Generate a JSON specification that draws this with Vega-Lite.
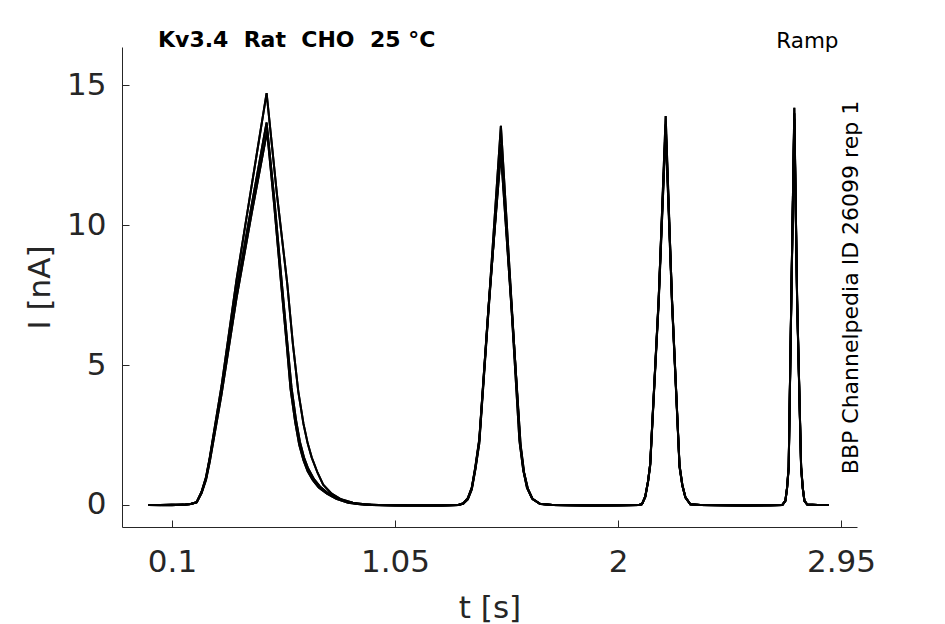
{
  "$schema": "https://vega.github.io/schema/vega-lite/v6.json",
  "autosize": {"type": "none"},
  "padding": {"left": 122, "top": 47, "right": 88, "bottom": 97},
  "width": 735,
  "height": 480,
  "background": "white",
  "title": {
    "text": "Kv3.4\u00a0\u00a0Rat\u00a0\u00a0CHO\u00a0\u00a025\u00a0°C",
    "anchor": "start", "frame": "group", "dx": 36, "offset": -39,
    "baseline": "alphabetic", "font": "DejaVu Sans", "fontSize": 22,
    "fontWeight": "bold", "color": "black"
  },
  "datasets": {
    "sweeps": [
      {"s": "A", "t": 0, "i": 0}, {"s": "A", "t": 0.05, "i": -0.01}, {"s": "A", "t": 0.1, "i": 0}, {"s": "A", "t": 0.15, "i": 0.01},
      {"s": "A", "t": 0.18, "i": 0.03}, {"s": "A", "t": 0.205, "i": 0.1}, {"s": "A", "t": 0.226, "i": 0.45}, {"s": "A", "t": 0.245, "i": 0.95},
      {"s": "A", "t": 0.261, "i": 1.65}, {"s": "A", "t": 0.311, "i": 4.1}, {"s": "A", "t": 0.375, "i": 7.65}, {"s": "A", "t": 0.44, "i": 10.75},
      {"s": "A", "t": 0.503, "i": 13.67}, {"s": "A", "t": 0.535, "i": 11.0}, {"s": "A", "t": 0.567, "i": 8.0}, {"s": "A", "t": 0.59, "i": 5.9},
      {"s": "A", "t": 0.609, "i": 4.2}, {"s": "A", "t": 0.628, "i": 3.05}, {"s": "A", "t": 0.645, "i": 2.25}, {"s": "A", "t": 0.662, "i": 1.7},
      {"s": "A", "t": 0.68, "i": 1.3}, {"s": "A", "t": 0.705, "i": 0.92}, {"s": "A", "t": 0.73, "i": 0.66}, {"s": "A", "t": 0.765, "i": 0.42},
      {"s": "A", "t": 0.801, "i": 0.25}, {"s": "A", "t": 0.85, "i": 0.1}, {"s": "A", "t": 0.887, "i": 0.04}, {"s": "A", "t": 0.95, "i": 0},
      {"s": "A", "t": 1.05, "i": -0.02}, {"s": "A", "t": 1.15, "i": -0.02}, {"s": "A", "t": 1.25, "i": -0.02}, {"s": "A", "t": 1.32, "i": 0},
      {"s": "A", "t": 1.341, "i": 0.05}, {"s": "A", "t": 1.36, "i": 0.22}, {"s": "A", "t": 1.377, "i": 0.6}, {"s": "A", "t": 1.392, "i": 1.3},
      {"s": "A", "t": 1.409, "i": 2.3}, {"s": "A", "t": 1.448, "i": 7.0}, {"s": "A", "t": 1.501, "i": 13.55}, {"s": "A", "t": 1.548, "i": 7.0},
      {"s": "A", "t": 1.583, "i": 2.2}, {"s": "A", "t": 1.598, "i": 1.2}, {"s": "A", "t": 1.614, "i": 0.6}, {"s": "A", "t": 1.635, "i": 0.22},
      {"s": "A", "t": 1.668, "i": 0.04}, {"s": "A", "t": 1.72, "i": 0}, {"s": "A", "t": 1.85, "i": -0.02}, {"s": "A", "t": 2.0, "i": -0.02},
      {"s": "A", "t": 2.09, "i": 0}, {"s": "A", "t": 2.102, "i": 0.03}, {"s": "A", "t": 2.116, "i": 0.3}, {"s": "A", "t": 2.128, "i": 0.85},
      {"s": "A", "t": 2.137, "i": 1.45}, {"s": "A", "t": 2.173, "i": 7.3}, {"s": "A", "t": 2.203, "i": 13.9}, {"s": "A", "t": 2.23, "i": 7.3},
      {"s": "A", "t": 2.262, "i": 1.4}, {"s": "A", "t": 2.274, "i": 0.7}, {"s": "A", "t": 2.287, "i": 0.27}, {"s": "A", "t": 2.308, "i": 0.02},
      {"s": "A", "t": 2.35, "i": 0}, {"s": "A", "t": 2.5, "i": -0.02}, {"s": "A", "t": 2.65, "i": -0.02}, {"s": "A", "t": 2.7, "i": 0},
      {"s": "A", "t": 2.713, "i": 0.15}, {"s": "A", "t": 2.72, "i": 0.6}, {"s": "A", "t": 2.727, "i": 1.35}, {"s": "A", "t": 2.738, "i": 7.3},
      {"s": "A", "t": 2.751, "i": 14.2}, {"s": "A", "t": 2.763, "i": 7.3}, {"s": "A", "t": 2.78, "i": 1.35}, {"s": "A", "t": 2.787, "i": 0.6},
      {"s": "A", "t": 2.794, "i": 0.15}, {"s": "A", "t": 2.806, "i": 0.01}, {"s": "A", "t": 2.85, "i": 0}, {"s": "A", "t": 2.898, "i": 0},

      {"s": "B", "t": 0, "i": 0}, {"s": "B", "t": 0.05, "i": 0}, {"s": "B", "t": 0.1, "i": 0.01}, {"s": "B", "t": 0.15, "i": 0},
      {"s": "B", "t": 0.18, "i": 0.03}, {"s": "B", "t": 0.205, "i": 0.09}, {"s": "B", "t": 0.226, "i": 0.42}, {"s": "B", "t": 0.245, "i": 0.9},
      {"s": "B", "t": 0.261, "i": 1.55}, {"s": "B", "t": 0.311, "i": 3.95}, {"s": "B", "t": 0.375, "i": 7.4}, {"s": "B", "t": 0.44, "i": 10.45},
      {"s": "B", "t": 0.505, "i": 13.35}, {"s": "B", "t": 0.535, "i": 10.75}, {"s": "B", "t": 0.565, "i": 7.9}, {"s": "B", "t": 0.588, "i": 5.8},
      {"s": "B", "t": 0.605, "i": 4.15}, {"s": "B", "t": 0.625, "i": 2.95}, {"s": "B", "t": 0.642, "i": 2.15}, {"s": "B", "t": 0.66, "i": 1.6},
      {"s": "B", "t": 0.678, "i": 1.2}, {"s": "B", "t": 0.7, "i": 0.88}, {"s": "B", "t": 0.725, "i": 0.62}, {"s": "B", "t": 0.76, "i": 0.4},
      {"s": "B", "t": 0.8, "i": 0.22}, {"s": "B", "t": 0.85, "i": 0.08}, {"s": "B", "t": 0.9, "i": 0.02}, {"s": "B", "t": 0.95, "i": 0},
      {"s": "B", "t": 1.1, "i": -0.01}, {"s": "B", "t": 1.25, "i": -0.02}, {"s": "B", "t": 1.32, "i": 0}, {"s": "B", "t": 1.341, "i": 0.06},
      {"s": "B", "t": 1.36, "i": 0.24}, {"s": "B", "t": 1.377, "i": 0.62}, {"s": "B", "t": 1.392, "i": 1.35}, {"s": "B", "t": 1.409, "i": 2.35},
      {"s": "B", "t": 1.448, "i": 7.05}, {"s": "B", "t": 1.501, "i": 12.6}, {"s": "B", "t": 1.546, "i": 7.05}, {"s": "B", "t": 1.58, "i": 2.3},
      {"s": "B", "t": 1.596, "i": 1.25}, {"s": "B", "t": 1.612, "i": 0.62}, {"s": "B", "t": 1.633, "i": 0.24}, {"s": "B", "t": 1.666, "i": 0.04},
      {"s": "B", "t": 1.72, "i": 0}, {"s": "B", "t": 1.9, "i": -0.02}, {"s": "B", "t": 2.09, "i": 0}, {"s": "B", "t": 2.102, "i": 0.03},
      {"s": "B", "t": 2.116, "i": 0.3}, {"s": "B", "t": 2.128, "i": 0.86}, {"s": "B", "t": 2.137, "i": 1.47}, {"s": "B", "t": 2.173, "i": 7.35},
      {"s": "B", "t": 2.203, "i": 13.6}, {"s": "B", "t": 2.23, "i": 7.35}, {"s": "B", "t": 2.262, "i": 1.42}, {"s": "B", "t": 2.274, "i": 0.72},
      {"s": "B", "t": 2.287, "i": 0.28}, {"s": "B", "t": 2.308, "i": 0.02}, {"s": "B", "t": 2.35, "i": 0}, {"s": "B", "t": 2.55, "i": -0.02},
      {"s": "B", "t": 2.7, "i": 0}, {"s": "B", "t": 2.713, "i": 0.15}, {"s": "B", "t": 2.72, "i": 0.62}, {"s": "B", "t": 2.727, "i": 1.38},
      {"s": "B", "t": 2.738, "i": 7.35}, {"s": "B", "t": 2.751, "i": 14.0}, {"s": "B", "t": 2.763, "i": 7.35}, {"s": "B", "t": 2.78, "i": 1.38},
      {"s": "B", "t": 2.787, "i": 0.62}, {"s": "B", "t": 2.794, "i": 0.15}, {"s": "B", "t": 2.806, "i": 0.01}, {"s": "B", "t": 2.85, "i": 0},
      {"s": "B", "t": 2.898, "i": 0},

      {"s": "C", "t": 0, "i": 0}, {"s": "C", "t": 0.05, "i": 0}, {"s": "C", "t": 0.1, "i": -0.01}, {"s": "C", "t": 0.15, "i": 0.01},
      {"s": "C", "t": 0.18, "i": 0.03}, {"s": "C", "t": 0.205, "i": 0.1}, {"s": "C", "t": 0.226, "i": 0.47}, {"s": "C", "t": 0.245, "i": 1.0},
      {"s": "C", "t": 0.261, "i": 1.7}, {"s": "C", "t": 0.311, "i": 4.25}, {"s": "C", "t": 0.375, "i": 8.05}, {"s": "C", "t": 0.44, "i": 11.45},
      {"s": "C", "t": 0.503, "i": 14.72}, {"s": "C", "t": 0.547, "i": 11.1}, {"s": "C", "t": 0.591, "i": 7.9}, {"s": "C", "t": 0.615, "i": 5.75},
      {"s": "C", "t": 0.638, "i": 4.05}, {"s": "C", "t": 0.66, "i": 2.9}, {"s": "C", "t": 0.678, "i": 2.2}, {"s": "C", "t": 0.695, "i": 1.7},
      {"s": "C", "t": 0.72, "i": 1.15}, {"s": "C", "t": 0.744, "i": 0.72}, {"s": "C", "t": 0.78, "i": 0.4}, {"s": "C", "t": 0.82, "i": 0.2},
      {"s": "C", "t": 0.87, "i": 0.08}, {"s": "C", "t": 0.92, "i": 0.02}, {"s": "C", "t": 0.98, "i": 0}, {"s": "C", "t": 1.1, "i": -0.02},
      {"s": "C", "t": 1.2, "i": -0.02}, {"s": "C", "t": 1.32, "i": 0}, {"s": "C", "t": 1.341, "i": 0.05}, {"s": "C", "t": 1.36, "i": 0.2},
      {"s": "C", "t": 1.377, "i": 0.55}, {"s": "C", "t": 1.392, "i": 1.25}, {"s": "C", "t": 1.409, "i": 2.2}, {"s": "C", "t": 1.448, "i": 6.9},
      {"s": "C", "t": 1.501, "i": 12.9}, {"s": "C", "t": 1.548, "i": 6.9}, {"s": "C", "t": 1.585, "i": 2.15}, {"s": "C", "t": 1.6, "i": 1.15},
      {"s": "C", "t": 1.616, "i": 0.58}, {"s": "C", "t": 1.637, "i": 0.2}, {"s": "C", "t": 1.67, "i": 0.03}, {"s": "C", "t": 1.72, "i": 0},
      {"s": "C", "t": 1.9, "i": -0.02}, {"s": "C", "t": 2.09, "i": 0}, {"s": "C", "t": 2.102, "i": 0.03}, {"s": "C", "t": 2.116, "i": 0.28},
      {"s": "C", "t": 2.128, "i": 0.82}, {"s": "C", "t": 2.137, "i": 1.4}, {"s": "C", "t": 2.173, "i": 7.2}, {"s": "C", "t": 2.203, "i": 13.4},
      {"s": "C", "t": 2.23, "i": 7.2}, {"s": "C", "t": 2.262, "i": 1.35}, {"s": "C", "t": 2.274, "i": 0.68}, {"s": "C", "t": 2.287, "i": 0.26},
      {"s": "C", "t": 2.308, "i": 0.02}, {"s": "C", "t": 2.35, "i": 0}, {"s": "C", "t": 2.55, "i": -0.02}, {"s": "C", "t": 2.7, "i": 0},
      {"s": "C", "t": 2.713, "i": 0.14}, {"s": "C", "t": 2.72, "i": 0.58}, {"s": "C", "t": 2.727, "i": 1.3}, {"s": "C", "t": 2.738, "i": 7.2},
      {"s": "C", "t": 2.751, "i": 13.8}, {"s": "C", "t": 2.763, "i": 7.2}, {"s": "C", "t": 2.78, "i": 1.3}, {"s": "C", "t": 2.787, "i": 0.58},
      {"s": "C", "t": 2.794, "i": 0.14}, {"s": "C", "t": 2.806, "i": 0.01}, {"s": "C", "t": 2.85, "i": 0}, {"s": "C", "t": 2.898, "i": 0}
    ]
  },
  "data": {"name": "sweeps"},
  "config": {
    "view": {"stroke": null},
    "axis": {
      "grid": false,
      "domainColor": "#262626", "tickColor": "#262626",
      "labelColor": "#262626", "titleColor": "#262626",
      "labelFont": "DejaVu Sans", "titleFont": "DejaVu Sans",
      "labelFontSize": 31, "titleFontSize": 31, "titleFontWeight": "normal",
      "domainWidth": 1, "tickWidth": 1, "tickSize": -7
    }
  },
  "layer": [
    {
      "mark": {"type": "line", "color": "black", "strokeWidth": 2},
      "encoding": {
        "x": {
          "field": "t", "type": "quantitative",
          "scale": {"domain": [-0.113, 3.018], "nice": false, "zero": false},
          "axis": {
            "orient": "bottom", "values": [0.1, 1.05, 2, 2.95], "format": ".3~g",
            "title": "t [s]", "labelPadding": 27, "labelFlush": false,
            "titleY": 90, "titleBaseline": "alphabetic"
          }
        },
        "y": {
          "field": "i", "type": "quantitative",
          "scale": {"domain": [-0.79, 16.37], "nice": false, "zero": false},
          "axis": {
            "orient": "left", "values": [0, 5, 10, 15],
            "title": "I [nA]", "labelPadding": 23,
            "titleX": -73, "titleY": 240, "titleAngle": 270,
            "titleBaseline": "alphabetic", "titleAlign": "center"
          }
        },
        "detail": {"field": "s"}
      }
    },
    {
      "mark": {"type": "line", "color": "black", "strokeWidth": 2},
      "encoding": {
        "x": {
          "field": "t", "type": "quantitative",
          "scale": {"domain": [-0.113, 3.018], "nice": false, "zero": false},
          "axis": {
            "orient": "top", "domain": false, "ticks": false, "labels": false,
            "title": "Ramp", "titleX": 716, "titleY": 0,
            "titleAlign": "right", "titleBaseline": "alphabetic",
            "titleFontSize": 21.5, "titleColor": "black"
          }
        },
        "y": {
          "field": "i", "type": "quantitative",
          "scale": {"domain": [-0.79, 16.37], "nice": false, "zero": false},
          "axis": {
            "orient": "right", "domain": false, "ticks": false, "labels": false,
            "title": "BBP Channelpedia ID 26099 rep 1",
            "titleX": 0, "titleY": 240, "titleAngle": 270,
            "titleAlign": "center", "titleBaseline": "alphabetic",
            "titleFontSize": 22, "titleColor": "black"
          }
        },
        "detail": {"field": "s"}
      }
    }
  ],
  "resolve": {"axis": {"x": "independent", "y": "independent"}}
}
